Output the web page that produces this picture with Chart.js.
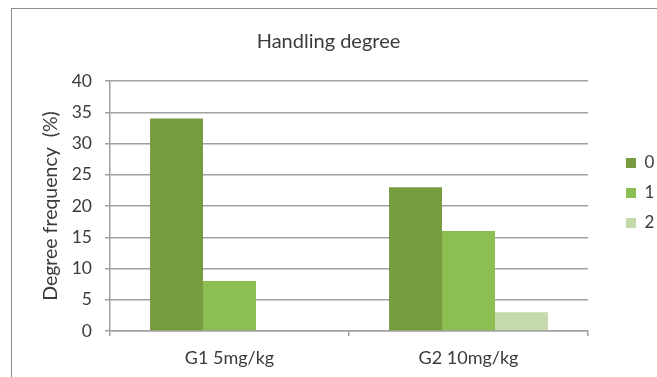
<!DOCTYPE html>
<html>
<head>
<meta charset="utf-8">
<script src="https://cdn.jsdelivr.net/npm/chart.js@4/dist/chart.umd.min.js"></script>
<style>
  html, body { margin: 0; padding: 0; background: #fff; }
  #wrap { position: relative; width: 657px; height: 377px; overflow: hidden; }
  #frame { position: absolute; left: 11px; top: 8px; width: 700px; height: 400px;
           border-left: 1px solid #8c8c8c; border-top: 1px solid #8c8c8c; }
  canvas { position: absolute; left: 0; top: 0; }
</style>
</head>
<body>
<div id="wrap">
  <div id="frame"></div>
  <canvas id="c" width="657" height="377"></canvas>
</div>
<script>
// Groups and handling-degree frequencies (%)
const categories = ['G1 5mg/kg', 'G2 10mg/kg'];
const seriesNames = ['0', '1', '2'];
const degree0 = [34, 23];
const degree1 = [8, 16];
const degree2 = [0, 3];
const yTicks = [0, 5, 10, 15, 20, 25, 30, 35, 40];

const colors = ['#779c3f', '#8dbe51', '#c4daad'];
const txt = '#3b3b3b';
const gridCol = '#a0a0a0';
const FONT = 'Lato, "Open Sans", sans-serif';

// keeps the legend column a fixed width on the right
const legendWidthPlugin = {
  id: 'legendWidth',
  beforeLayout(chart) {
    const lg = chart.legend;
    if (lg && !lg._fixedFit) {
      const orig = lg.fit.bind(lg);
      lg.fit = function () { orig(); this.width = 44; };
      lg._fixedFit = true;
    }
  }
};

new Chart(document.getElementById('c'), {
  type: 'bar',
  data: {
    labels: categories,
    datasets: [
      { label: seriesNames[0], data: degree0, backgroundColor: colors[0] },
      { label: seriesNames[1], data: degree1, backgroundColor: colors[1] },
      { label: seriesNames[2], data: degree2, backgroundColor: colors[2] }
    ]
  },
  options: {
    responsive: false,
    animation: false,
    devicePixelRatio: 1,
    layout: { padding: { left: 0, right: 0, top: 9, bottom: 0 } },
    datasets: { bar: { categoryPercentage: 0.665, barPercentage: 1.0, borderWidth: 0 } },
    plugins: {
      title: {
        display: true,
        text: 'Handling degree',
        color: txt,
        font: { family: FONT, size: 20, weight: 'normal' },
        padding: { top: 21, bottom: 27 }
      },
      legend: {
        position: 'right',
        align: 'center',
        labels: {
          boxWidth: 10, boxHeight: 10, padding: 13,
          color: txt,
          font: { family: FONT, size: 17 }
        }
      },
      tooltip: { enabled: false }
    },
    scales: {
      x: {
        grid: { display: true, drawOnChartArea: false, offset: true, color: gridCol, tickLength: 5, lineWidth: 1.5 },
        border: { display: true, color: gridCol, width: 1.5 },
        ticks: { color: txt, font: { family: FONT, size: 18 }, padding: 11 },
        afterFit(s) { s.height = 46; }
      },
      y: {
        min: 0, max: 40,
        afterBuildTicks(s) { s.ticks = yTicks.map(v => ({ value: v })); },
        grid: { color: gridCol, tickLength: 5, lineWidth: 1.5 },
        border: { display: true, color: gridCol, width: 1.5 },
        ticks: { color: txt, font: { family: FONT, size: 17.5 }, padding: 13 },
        title: {
          display: true,
          text: 'Degree frequency  (%)',
          color: txt,
          font: { family: FONT, size: 19.5 },
          padding: { top: 39, bottom: 0 }
        },
        afterFit(s) { s.width = 110; }
      },
      // spacer between plot and legend
      spacer: {
        type: 'linear',
        position: 'right',
        display: true,
        grid: { display: false },
        border: { display: false },
        ticks: { display: false },
        afterFit(s) { s.width = 25; }
      }
    }
  },
  plugins: [legendWidthPlugin]
});
</script>
</body>
</html>
